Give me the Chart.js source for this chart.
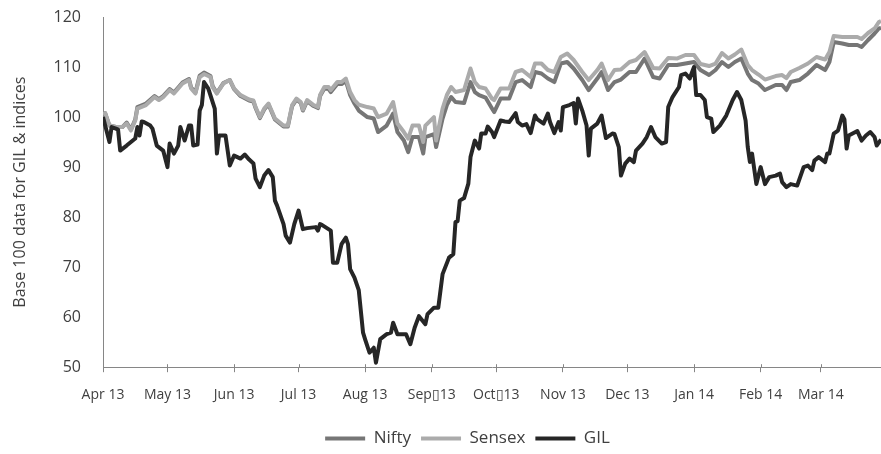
<!DOCTYPE html>
<html>
<head>
<meta charset="utf-8">
<script src="https://cdn.jsdelivr.net/npm/chart.js@4.4.0/dist/chart.umd.min.js"></script>
<style>
  html, body { margin: 0; padding: 0; background: #fff; }
  #wrap { width: 881px; height: 454px; position: relative; }
</style>
</head>
<body>
<div id="wrap"><canvas id="myChart"></canvas></div>
<script>
// x values are days counted from 1 Apr 2013
const monthDays = [0, 30, 61, 91, 122, 153, 183, 214, 244, 275, 306, 334];
const monthLabels = ['Apr 13', 'May 13', 'Jun 13', 'Jul 13', 'Aug 13', 'Sep\u25AF13', 'Oct\u25AF13', 'Nov 13', 'Dec 13', 'Jan 14', 'Feb 14', 'Mar 14'];

const idxDays = [0, 1, 3, 6, 9, 11, 13, 15, 16, 20, 24, 26, 28, 31, 33, 37, 40, 41, 43, 45, 47, 50, 51, 53, 54, 56, 59, 61, 64, 68, 70, 71, 73, 75, 77, 78, 80, 82, 84, 86, 88, 90, 92, 93, 95, 98, 100, 101, 103, 105, 106, 109, 111, 113, 115, 117, 119, 123, 126, 128, 132, 135, 137, 140, 142, 144, 147, 149, 150, 154, 155, 158, 160, 162, 164, 168, 171, 173, 175, 178, 181, 182, 185, 189, 192, 195, 199, 201, 204, 207, 210, 213, 216, 219, 223, 226, 230, 232, 235, 238, 241, 245, 248, 252, 256, 259, 263, 267, 271, 275, 278, 282, 285, 288, 291, 294, 297, 300, 302, 305, 308, 313, 316, 318, 320, 324, 328, 332, 336, 338, 340, 344, 347, 351, 353, 356, 359, 361, 362];
const sensex = [100.5, 100.8, 98.3, 98, 98, 98.7, 97.3, 99.3, 101.7, 102.4, 104, 103.4, 104, 105.4, 104.7, 106.7, 107.4, 105.7, 104.7, 108, 108.6, 108, 106, 104.7, 105.4, 106.7, 107.4, 105.7, 104.4, 103.5, 103.3, 102, 100, 101.7, 102.7, 101.7, 99.7, 99, 98.3, 98.3, 102.4, 103.7, 103, 101.5, 103.4, 102.4, 102, 104.4, 106, 106, 105.4, 107, 107, 107.7, 105, 103.4, 102.5, 102, 101.7, 100, 100.7, 103, 98.7, 97, 95.7, 98.3, 98.3, 95, 98.3, 100, 95.3, 101.7, 104.4, 106, 105, 105.4, 109.7, 107, 106, 105.7, 103.7, 103.4, 105.7, 105.7, 109, 109.4, 108, 110.7, 110.7, 109.4, 109, 112, 112.7, 111.4, 109, 107.4, 109.4, 110.7, 107.4, 109.4, 109.5, 111, 111.4, 113, 109.8, 109.7, 111.8, 111.7, 112.4, 112.4, 110.6, 110.2, 110.7, 112.8, 111.7, 112.5, 113.5, 110.4, 109.4, 108.5, 107.5, 108.2, 108.4, 107.8, 109, 109.8, 110.7, 112, 111.5, 113, 116.2, 116, 116, 116, 115.6, 116.8, 117.7, 119, 119.2];
const nifty = [100.5, 100.8, 98.3, 98, 98, 98.9, 97.5, 99.5, 102, 102.7, 104.2, 103.6, 104.2, 105.6, 104.9, 106.9, 107.6, 105.9, 104.9, 108.3, 108.9, 108.2, 106.2, 104.8, 105.5, 106.8, 107.4, 105.6, 104.2, 103.3, 103.1, 101.8, 99.8, 101.5, 102.5, 101.5, 99.5, 98.8, 98.1, 98.1, 102.2, 103.5, 102.8, 101.3, 103.2, 102.2, 101.8, 104.2, 105.7, 105.6, 105, 106.6, 106.6, 107.2, 104.4, 102.7, 101.3, 100, 99.7, 97, 98.3, 100.7, 97, 95.3, 93, 96, 96, 92.7, 96, 96.6, 94, 99.7, 102.4, 104, 103, 102.8, 107, 105, 104.4, 103.9, 101.7, 101, 103.7, 103.7, 107, 107.4, 106, 109, 108.7, 107.7, 107, 110.7, 111, 109.7, 107.4, 105.4, 107.7, 109, 105.4, 107, 107.5, 109, 109, 111.7, 108, 107.7, 110.4, 110.4, 110.7, 111, 109.4, 108.4, 109.4, 111, 110, 111, 111.7, 108.7, 107.4, 106.7, 105.4, 106.4, 106.4, 105.4, 107, 107.4, 108.7, 110.4, 109.4, 111, 115, 114.7, 114.4, 114.4, 114, 115.4, 116.7, 117.7, 117.8];

const gilDays = [0, 3, 4, 6, 7, 8, 11, 13, 15, 16, 17, 18, 19, 22, 23, 25, 28, 30, 31, 33, 35, 36, 38, 40, 41, 42, 44, 45, 46, 47, 49, 52, 53, 54, 57, 59, 61, 64, 66, 68, 70, 71, 73, 75, 77, 79, 80, 81, 84, 85, 87, 89, 91, 93, 95, 99, 100, 101, 102, 106, 107, 109, 111, 113, 114, 115, 117, 119, 121, 122, 124, 126, 127, 129, 132, 134, 135, 137, 141, 143, 145, 147, 150, 151, 154, 156, 158, 161, 163, 164, 165, 166, 168, 170, 171, 173, 175, 176, 178, 179, 181, 182, 185, 187, 189, 192, 193, 195, 197, 199, 201, 202, 205, 207, 208, 210, 212, 213, 214, 217, 219, 220, 221, 223, 225, 226, 227, 230, 232, 234, 237, 238, 240, 241, 243, 245, 247, 248, 251, 253, 255, 257, 260, 262, 263, 265, 268, 269, 271, 273, 275, 276, 278, 280, 281, 283, 284, 287, 290, 293, 295, 297, 299, 300, 301, 302, 304, 306, 308, 310, 313, 315, 316, 318, 320, 323, 326, 328, 330, 331, 333, 336, 337, 338, 340, 342, 344, 345, 346, 347, 351, 353, 355, 357, 359, 360, 362];
const gil = [100, 95, 98, 97.7, 97.5, 93.3, 94.3, 95, 95.7, 98, 96.3, 99.1, 99, 98.3, 97.7, 94.3, 93.3, 90, 94.7, 92.7, 94.3, 98, 95.3, 98.3, 98.3, 94.3, 94.5, 101.3, 102.4, 107, 105.7, 101.7, 92.7, 96.3, 96.3, 90.3, 92.3, 91.7, 92.5, 91.5, 90.7, 87.7, 86, 88.3, 89.4, 88, 83.3, 82.3, 78.6, 76.3, 74.9, 78.6, 81.3, 77.6, 77.8, 78, 77.3, 78.6, 78.4, 77.3, 70.9, 70.9, 74.6, 75.9, 74.6, 69.6, 67.9, 65.4, 56.9, 55.5, 52.9, 53.9, 50.9, 55.6, 56.6, 56.9, 58.9, 56.6, 56.6, 54.6, 57.9, 60.2, 58.6, 60.6, 61.9, 61.9, 68.6, 71.9, 72.6, 79, 79.2, 83.3, 83.8, 86.7, 92, 95.3, 93.7, 96.7, 96.7, 98.1, 97, 96, 99.3, 99.1, 99, 100.8, 99, 98.3, 98.6, 96.8, 100.3, 99.6, 98.7, 100.7, 99, 96.8, 99, 97.3, 102, 102.4, 102.8, 98.7, 103.7, 101.3, 98.3, 92.3, 97.7, 98.7, 100.3, 95.8, 96.7, 96.6, 94, 88.3, 90.7, 91.7, 91, 93.3, 94.7, 96, 98, 96, 94.7, 95, 102, 104, 106, 108.4, 108.7, 107.7, 110, 104.4, 104.4, 103.4, 100, 99.7, 97, 98.3, 100.3, 103.4, 105, 103.4, 99.3, 94, 91, 92.7, 86.6, 90, 86.6, 88, 88.3, 88.7, 87, 86, 86.6, 86.3, 90, 90.3, 89.4, 91.3, 92, 91, 92.7, 92.7, 96.7, 97.3, 100.3, 99.5, 93.7, 96.3, 97.2, 95.3, 96.3, 97, 96, 94.3, 95.5];

const yTicks = [50, 60, 70, 80, 90, 100, 110, 120];

function pts(days, vals) {
  return days.map((d, i) => ({ x: d, y: vals[i] }));
}

const ctx = document.getElementById('myChart');

new Chart(ctx, {
  type: 'line',
  data: {
    datasets: [
      { label: 'Nifty', data: pts(idxDays, nifty), borderColor: '#767676', backgroundColor: '#767676', order: 2 },
      { label: 'Sensex', data: pts(idxDays, sensex), borderColor: '#ababab', backgroundColor: '#ababab', order: 1 },
      { label: 'GIL', data: pts(gilDays, gil), borderColor: '#262626', backgroundColor: '#262626', order: 0 }
    ]
  },
  options: {
    responsive: true,
    maintainAspectRatio: false,
    animation: false,
    layout: { padding: { left: 0, right: 0, top: 17, bottom: 0 } },
    elements: {
      line: { borderWidth: 4, tension: 0, borderJoinStyle: 'round' },
      point: { radius: 0 }
    },
    scales: {
      x: {
        type: 'linear',
        min: 0,
        max: 362,
        afterBuildTicks: s => { s.ticks = monthDays.map(v => ({ value: v })); },
        ticks: {
          autoSkip: false,
          maxRotation: 0,
          padding: 14,
          color: '#404040',
          font: { family: 'Open Sans', size: 14 },
          callback: v => monthLabels[monthDays.indexOf(v)]
        },
        grid: { drawOnChartArea: false, tickLength: 5, color: '#868686' },
        border: { color: '#868686', width: 1 }
      },
      y: {
        min: 50,
        max: 120,
        afterBuildTicks: s => { s.ticks = yTicks.map(v => ({ value: v })); },
        afterFit: s => { s.width = 103; },
        ticks: {
          padding: 2,
          color: '#404040',
          font: { family: 'Open Sans', size: 16 }
        },
        grid: { drawOnChartArea: false, drawTicks: true, tickLength: 20, color: 'rgba(0,0,0,0)' },
        border: { color: '#868686', width: 1 },
        title: {
          display: true,
          text: 'Base 100 data for GIL & indices',
          color: '#404040',
          font: { family: 'Open Sans', size: 16 },
          padding: { top: 11, bottom: 0 }
        }
      }
    },
    plugins: {
      tooltip: { enabled: false },
      legend: {
        position: 'bottom',
        labels: {
          boxWidth: 40,
          boxHeight: 4,
          padding: 10,
          color: '#404040',
          font: { family: 'Open Sans', size: 17 },
          sort: (a, b) => a.datasetIndex - b.datasetIndex,
          generateLabels: c => Chart.defaults.plugins.legend.labels.generateLabels(c).map(l => ({ ...l, lineWidth: 0 }))
        }
      }
    }
  },
  plugins: [{
    id: 'legendShift',
    afterLayout(chart) {
      chart.legend.left += 54;
      chart.legend.top += 3;
      chart.legend.bottom += 3;
    },
    afterDatasetsDraw(chart) {
      // small tick stubs above the x axis, like the original
      const sx = chart.scales.x;
      const c = chart.ctx;
      c.save();
      c.strokeStyle = '#868686';
      c.lineWidth = 1;
      monthDays.forEach(d => {
        const px = Math.round(sx.getPixelForValue(d)) + 0.5;
        c.beginPath();
        c.moveTo(px, sx.top - 3);
        c.lineTo(px, sx.top);
        c.stroke();
      });
      c.restore();
    }
  }]
});
</script>
</body>
</html>
